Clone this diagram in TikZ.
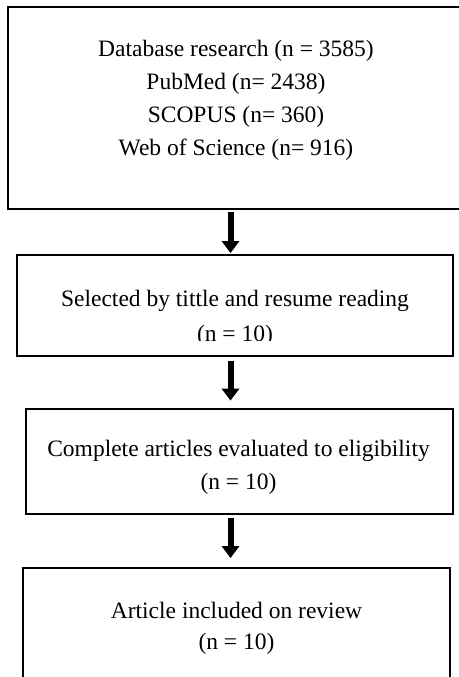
\documentclass[tikz,border=0pt]{standalone}
\usepackage{fontspec}
\setmainfont{Liberation Serif}
\usetikzlibrary{arrows.meta}
\tikzset{
  frame/.style={draw=black, line width=2pt, rectangle, inner sep=0pt, outer sep=0pt},
  label/.style={align=center, inner sep=0pt, font=\fontsize{23.5}{33}\selectfont},
  flow/.style={draw=black, line width=6pt,
    -{Triangle[width=18pt, length=12pt, line width=0pt]}},
}
\begin{document}
\begin{tikzpicture}[x=1pt, y=-1pt]
\useasboundingbox (0,0) rectangle (458,677);

% boxes (corner to corner)
\node[frame, minimum width=464pt, minimum height=202pt] (b1) at (240,108) {};
\node[frame, minimum width=436pt, minimum height=101pt] (b2) at (235,305.5) {};
\node[frame, minimum width=427pt, minimum height=105pt] (b3) at (239.5,461) {};
\node[frame, minimum width=427pt, minimum height=140pt] (b4) at (236.5,638) {};

% texts
\node[label] (t1) at (236,100) {Database research (n = 3585)\\PubMed (n= 2438)\\SCOPUS (n= 360)\\Web of Science (n= 916)};
\begin{scope}
  \clip (b2.north west) rectangle (458,340);
  \node[label, font=\fontsize{23.5}{35}\selectfont] (t2) at (235,318) {Selected by tittle and resume reading\\(n = 10)};
\end{scope}
\node[label] (t3) at (238.5,467) {Complete articles evaluated to eligibility\\(n = 10)};
\node[label, font=\fontsize{23.5}{31}\selectfont] (t4) at (236.5,628) {Article included on review\\(n = 10)};

% arrows between the boxes
\coordinate (ax) at (230.5,0);
\draw[flow, shorten <=3pt, shorten >=2pt] (b1.south -| ax) -- (b2.north -| ax);
\draw[flow, shorten <=5pt, shorten >=8pt] (b2.south -| ax) -- (b3.north -| ax);
\draw[flow, shorten <=4pt, shorten >=10pt] (b3.south -| ax) -- (b4.north -| ax);
\end{tikzpicture}
\end{document}
